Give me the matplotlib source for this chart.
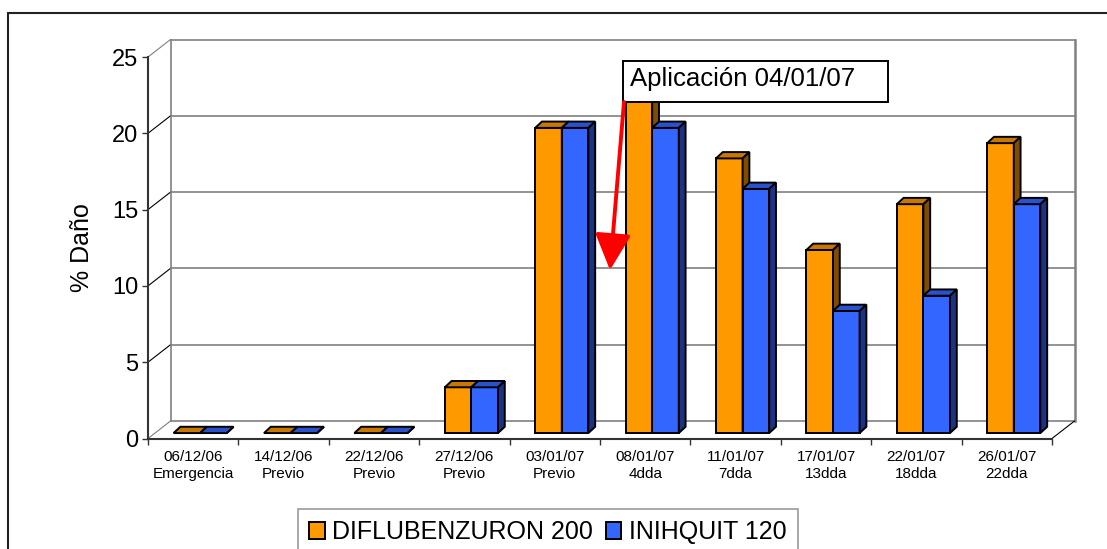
import numpy as np
import matplotlib
matplotlib.use('Agg')
import matplotlib.pyplot as plt
import matplotlib.patches as mpatches

plt.rcParams['font.family'] = ['Liberation Sans', 'DejaVu Sans']

# datos
fechas = ["06/12/06", "14/12/06", "22/12/06", "27/12/06", "03/01/07",
          "08/01/07", "11/01/07", "17/01/07", "22/01/07", "26/01/07"]
etapas = ["Emergencia", "Previo", "Previo", "Previo", "Previo",
          "4dda", "7dda", "13dda", "18dda", "22dda"]
diflubenzuron = [0, 0, 0, 3, 20, 22, 18, 12, 15, 19]
inihquit = [0, 0, 0, 3, 20, 20, 16, 8, 9, 15]
series_names = ["DIFLUBENZURON 200", "INIHQUIT 120"]
y_ticks = [0, 5, 10, 15, 20, 25]

# colores (frente, tapa, costado)
ORANGE = ("#FF9900", "#C87800", "#7F4C00")
BLUE = ("#3366FF", "#2A52CC", "#1C3283")

W, H = 1107, 549
fig = plt.figure(figsize=(W / 100, H / 100), dpi=100)

# ejes = plano frontal del grafico 3D
x0, x1, y0, y1 = 148, 1052, 438.5, 57
ax = fig.add_axes([x0 / W, 1 - y0 / H, (x1 - x0) / W, (y0 - y1) / H])
n = len(fechas)
ax.set_xlim(-0.5, n - 0.5)
ax.set_ylim(0, 25)

px_x = (x1 - x0) / n          # pixeles por categoria
px_y = (y0 - y1) / 25         # pixeles por unidad
DX, DY = 22.5 / px_x, 17.5 / px_y   # profundidad de la pared
BX, BY = 6.8 / px_x, 6.3 / px_y     # profundidad de la barra
f = 0.31                           # plano de las barras
bw = 26.6 / px_x

# pared del fondo
wall = "#808080"
for v in y_ticks:
    ax.plot([-0.5 + DX, n - 0.5 + DX], [v + DY, v + DY], color=wall, lw=1.2,
            clip_on=False, zorder=1)
    ax.plot([-0.5, -0.5 + DX], [v, v + DY], color="black" if 0 < v < 25 else wall,
            lw=0.8, clip_on=False, zorder=1)
ax.plot([-0.5 + DX] * 2, [DY, 25 + DY], color=wall, lw=1.2, clip_on=False, zorder=1)
ax.plot([n - 0.5 + DX] * 2, [DY, 25 + DY], color=wall, lw=1.8, clip_on=False, zorder=1)
ax.plot([n - 0.5, n - 0.5 + DX], [0, DY], color="black", lw=0.8, clip_on=False, zorder=1)


def bar3d(x, vals, colors, z):
    front, top, side = colors
    base = f * DY
    ax.bar(x, vals, width=bw, bottom=base, align='edge', color=front,
           edgecolor="black", lw=1.4, zorder=z, clip_on=False)
    for xi, v in zip(x, vals):
        t = base + v
        ax.add_patch(mpatches.Polygon(
            [(xi, t), (xi + bw, t), (xi + bw + BX, t + BY), (xi + BX, t + BY)],
            closed=True, facecolor=top, edgecolor="black", lw=1.4, zorder=z,
            clip_on=False))
        ax.add_patch(mpatches.Polygon(
            [(xi + bw, base), (xi + bw + BX, base + BY), (xi + bw + BX, t + BY), (xi + bw, t)],
            closed=True, facecolor=side, edgecolor="black", lw=1.4, zorder=z,
            clip_on=False))


xc = np.arange(n) + f * DX
bar3d(xc - bw, diflubenzuron, ORANGE, 3)
bar3d(xc, inihquit, BLUE, 4)

# ejes
for s in ("top", "right"):
    ax.spines[s].set_visible(False)
for s in ("left", "bottom"):
    ax.spines[s].set_color("#333333")
    ax.spines[s].set_linewidth(1.5)
    ax.spines[s].set_zorder(5)
ax.set_yticks(y_ticks)
ax.tick_params(axis='y', labelsize=17, length=4, width=1, color="#333333", pad=3)
ax.set_xticks(np.arange(-0.5, n, 1.0))
ax.set_xticklabels([])
ax.set_xticks(np.arange(n), [f"{a}\n{b}" for a, b in zip(fechas, etapas)], minor=True)
ax.tick_params(axis='x', which='major', length=4.5, width=1, color="#333333")
ax.tick_params(axis='x', which='minor', length=0, labelsize=11, pad=8)
for lab in ax.get_xticklabels(minor=True):
    lab.set_linespacing(1.3)
ax.set_ylabel("% Daño", fontsize=18, labelpad=13)
ax.set_facecolor("none")

# leyenda
handles = [mpatches.Patch(facecolor=ORANGE[0], edgecolor="black", lw=1.4),
           mpatches.Patch(facecolor=BLUE[0], edgecolor="black", lw=1.4)]
leg = fig.legend(handles, series_names, loc="upper left",
                 bbox_to_anchor=(298 / W, 1 - 509 / H), ncol=2, fontsize=18,
                 frameon=True, fancybox=False, handlelength=0.62, handleheight=0.62,
                 handletextpad=0.3, columnspacing=0.5, borderpad=0.45,
                 borderaxespad=0)
leg.get_frame().set_edgecolor("#808080")
leg.get_frame().set_linewidth(1.2)

# anotacion de la aplicacion
fig.patches.append(mpatches.Rectangle((623 / W, 1 - 102 / H), 265 / W, 41 / H,
                                      transform=fig.transFigure, facecolor="white",
                                      edgecolor="black", lw=1.4, zorder=10))
fig.text(630 / W, 1 - 86 / H, "Aplicación 04/01/07", fontsize=18.5, va="baseline",
         ha="left", zorder=11)
arrow = mpatches.FancyArrowPatch((624, H - 102), (610, H - 270),
                                 transform=None, color="red", lw=2.8,
                                 arrowstyle="-|>,head_length=1.1,head_width=0.55",
                                 mutation_scale=20, shrinkA=0, shrinkB=0, zorder=12)
fig.patches.append(arrow)

# marco exterior
fig.patches.append(mpatches.Rectangle((8 / W, -0.1), 1.2, 1 - 13 / H + 0.1,
                                      transform=fig.transFigure, fill=False,
                                      edgecolor="#222222", lw=1.5, zorder=0))

fig.savefig("out.png", dpi=100)
